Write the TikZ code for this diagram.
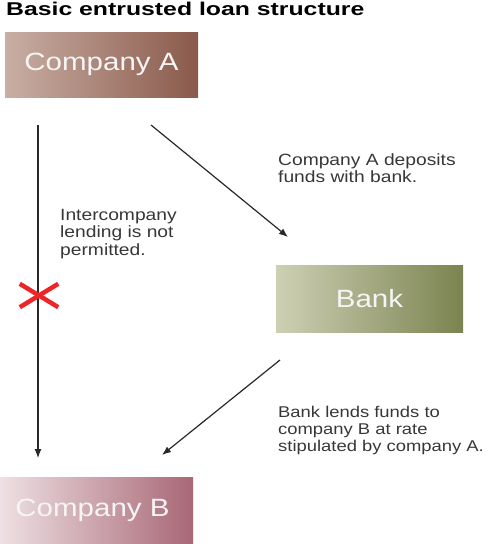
\documentclass[tikz,border=0pt]{standalone}
\usepackage{fontspec}
\setmainfont[FakeStretch=1.18]{Liberation Sans}
\newfontfamily\titlefont[FakeStretch=1.34]{Liberation Sans}
\usetikzlibrary{arrows.meta}

\definecolor{aleft}{RGB}{201,174,164}
\definecolor{aright}{RGB}{138,90,75}
\definecolor{bleft}{RGB}{206,208,180}
\definecolor{bright}{RGB}{123,131,80}
\definecolor{cleft}{RGB}{238,224,228}
\definecolor{cright}{RGB}{168,103,117}
\definecolor{linegrey}{RGB}{40,40,40}
\definecolor{txtgrey}{RGB}{55,55,55}
\definecolor{crossred}{RGB}{236,38,40}

\begin{document}
\begin{tikzpicture}[
	x=1pt, y=-1pt,
	box/.style = {rectangle, inner sep=0, text=white!96!black, font=\fontsize{25}{25}\selectfont},
	lbl/.style = {anchor=north west, inner sep=0, align=left, text=txtgrey, font=\fontsize{16.3}{17.5}\selectfont},
	r/.style = {-{Latex[length=9pt,width=7pt]}, line width=1.2pt, draw=linegrey},
	xmark/.style = {rectangle, inner sep=0, minimum width=38pt, minimum height=23pt},
	cross/.style = {draw=crossred, line width=4.5pt}
	]
	\useasboundingbox (0,0) rectangle (491,544);

	%Nodes
	\node[anchor=base west, inner sep=0, font=\titlefont\bfseries\fontsize{18.5}{18.5}\selectfont]	(title)	at	(6, 15.5)	{Basic entrusted loan structure};

	\node[box, minimum width=193pt, minimum height=65pt, left color=aleft, right color=aright]	(compA)	at	(101.5, 64.5)	{Company A};
	\node[box, minimum width=187pt, minimum height=67pt, left color=bleft, right color=bright]	(bank)	at	(369.5, 298.5)	{Bank};
	\node[box, minimum width=193pt, minimum height=67pt, left color=cleft, right color=cright]	(compB)	at	(96.5, 510.5)	{\hspace*{-8pt}Company B};

	\node[lbl]	(deposit)	at	(278, 153)	{Company A deposits\\funds with bank.};
	\node[lbl]	(intercomp)	at	(60, 209)	{Intercompany\\lending is not\\permitted.};
	\node[lbl, font=\fontsize{15.6}{16.8}\selectfont]	(lend)	at	(278, 406)	{Bank lends funds to\\company B at rate\\stipulated by company A.};

	\coordinate	(aDown)	at	(38, 125);
	\coordinate	(bUp)	at	(38, 458);
	\coordinate	(aOut)	at	(151, 125);
	\coordinate	(bankIn)	at	(288, 237);
	\coordinate	(bankOut)	at	(280, 360);
	\coordinate	(bIn)	at	(162, 455);

	\node[xmark]	(nolend)	at	(39, 295.5)	{};

	%Lines
	\draw[r]	(aDown)	--	(bUp);
	\draw[r]	(aOut)	--	(bankIn);
	\draw[r]	(bankOut)	--	(bIn);
	\draw[cross]	(nolend.north west)	--	(nolend.south east);
	\draw[cross]	(nolend.south west)	--	(nolend.north east);
\end{tikzpicture}
\end{document}
